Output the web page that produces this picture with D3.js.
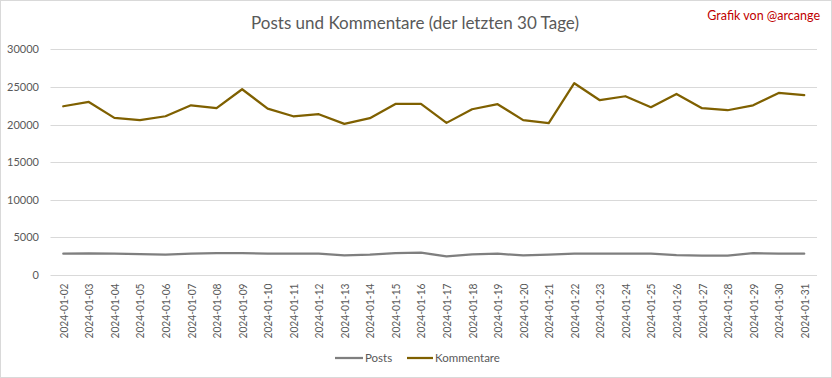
<!DOCTYPE html>
<html>
<head>
<meta charset="utf-8">
<script src="https://cdn.jsdelivr.net/npm/d3@7"></script>
<style>
  html, body { margin: 0; padding: 0; background: #fff; }
  svg { display: block; font-family: Lato, "Open Sans", sans-serif; }
</style>
</head>
<body>
<svg id="chart" width="832" height="378"></svg>
<script>
const dates = ["2024-01-02","2024-01-03","2024-01-04","2024-01-05","2024-01-06","2024-01-07","2024-01-08","2024-01-09","2024-01-10","2024-01-11","2024-01-12","2024-01-13","2024-01-14","2024-01-15","2024-01-16","2024-01-17","2024-01-18","2024-01-19","2024-01-20","2024-01-21","2024-01-22","2024-01-23","2024-01-24","2024-01-25","2024-01-26","2024-01-27","2024-01-28","2024-01-29","2024-01-30","2024-01-31"];
const posts = [2830,2880,2830,2790,2700,2830,2920,2920,2830,2830,2830,2610,2700,2920,2960,2480,2740,2830,2610,2700,2830,2830,2830,2830,2650,2570,2570,2920,2830,2830];
const kommentare = [22430,23000,20880,20580,21100,22560,22170,24690,22120,21100,21370,20090,20840,22740,22740,20220,22030,22700,20580,20180,25490,23230,23760,22300,24070,22170,21900,22560,24200,23900];
const yTicks = [0,5000,10000,15000,20000,25000,30000];
const seriesNames = ["Posts","Kommentare"];
const seriesColors = ["#7f7f7f","#7f6000"];
const titleText = "Posts und Kommentare (der letzten 30 Tage)";
const creditText = "Grafik von @arcange";

const svg = d3.select("#chart");
const W = 832, H = 378;
const plot = {left: 50.5, right: 817, top: 49.3, bottom: 275};

svg.append("rect").attr("x",0.5).attr("y",0.5).attr("width",W-1).attr("height",H-1)
  .attr("fill","#fff").attr("stroke","#d9d9d9").attr("stroke-width",1);

const x = d3.scalePoint().domain(dates).range([plot.left, plot.right]).padding(0.5);
const y = d3.scaleLinear().domain([0,30000]).range([plot.bottom, plot.top]);

// gridlines
svg.append("g").selectAll("line").data(yTicks).join("line")
  .attr("x1", plot.left).attr("x2", plot.right)
  .attr("y1", d => Math.round(y(d))+0.5).attr("y2", d => Math.round(y(d))+0.5)
  .attr("stroke","#d9d9d9").attr("stroke-width",1);

// y axis labels
const yAxis = d3.axisLeft(y).tickValues(yTicks).tickSize(0).tickPadding(0).tickFormat(d3.format("d"));
const gy = svg.append("g").attr("transform","translate(39,0)").call(yAxis);
gy.select(".domain").remove();
gy.selectAll("text").attr("fill","#595959").style("font-size","11px").style("font-family","Lato, sans-serif");

// x axis labels
const xAxis = d3.axisBottom(x).tickSize(0).tickPadding(0);
const gx = svg.append("g").attr("transform",`translate(0,${plot.bottom})`).call(xAxis);
gx.select(".domain").remove();
gx.selectAll("text")
  .attr("fill","#595959").style("font-size","11px").style("font-family","Lato, sans-serif")
  .attr("text-anchor","end").attr("dy",null).attr("y",0)
  .attr("textLength", 55).attr("lengthAdjust","spacingAndGlyphs")
  .attr("transform","translate(4,8.5) rotate(-90)");

// lines
const line = d3.line().x((d,i) => x(dates[i])).y(d => y(d));
[posts, kommentare].forEach((vals, k) => {
  svg.append("path").datum(vals).attr("d", line)
    .attr("fill","none").attr("stroke", seriesColors[k]).attr("stroke-width",2.25)
    .attr("stroke-linejoin","round").attr("stroke-linecap","round");
});

// title
svg.append("text").attr("x", 415).attr("y", 29).attr("text-anchor","middle")
  .attr("fill","#595959").style("font-size","17px").text(titleText);

svg.append("text").attr("x", 820).attr("y", 20).attr("text-anchor","end")
  .attr("fill","#c00000").style("font-size","12.5px").text(creditText);

// legend
const legendItems = [
  {name: seriesNames[0], color: seriesColors[0], x1: 335, x2: 363, tx: 365},
  {name: seriesNames[1], color: seriesColors[1], x1: 407, x2: 433, tx: 435}
];
const lg = svg.append("g");
legendItems.forEach(it => {
  lg.append("line").attr("x1", it.x1).attr("x2", it.x2).attr("y1", 358).attr("y2", 358)
    .attr("stroke", it.color).attr("stroke-width", 2.25);
  lg.append("text").attr("x", it.tx).attr("y", 362).attr("fill","#595959")
    .style("font-size","11.5px").text(it.name);
});
</script>
</body>
</html>
